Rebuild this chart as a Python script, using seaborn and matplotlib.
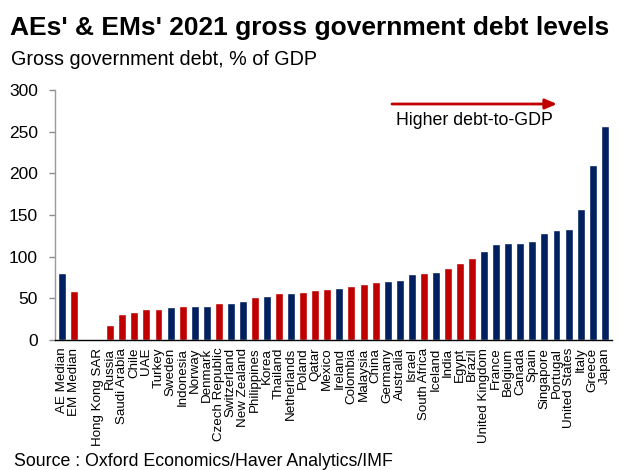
import matplotlib
matplotlib.use("Agg")
import matplotlib.pyplot as plt
import seaborn as sns
import pandas as pd

# 2021 gross government debt, % of GDP (AE = advanced economy, EM = emerging market)
countries = [
    "AE Median", "EM Median",
    "Hong Kong SAR", "Russia", "Saudi Arabia", "Chile", "UAE", "Turkey",
    "Sweden", "Indonesia", "Norway", "Denmark", "Czech Republic",
    "Switzerland", "New Zealand", "Philippines", "Korea", "Thailand",
    "Netherlands", "Poland", "Qatar", "Mexico", "Ireland", "Colombia",
    "Malaysia", "China", "Germany", "Australia", "Israel", "South Africa",
    "Iceland", "India", "Egypt", "Brazil", "United Kingdom", "France",
    "Belgium", "Canada", "Spain", "Singapore", "Portugal", "United States",
    "Italy", "Greece", "Japan",
]
debt = [
    80, 59,
    1.5, 18, 31, 34, 37, 37,
    40, 41, 41, 41, 44,
    45, 47, 52, 53, 56,
    56, 58, 60, 61, 63, 64.5,
    67, 70, 70.5, 72, 79, 80.5,
    82, 86.5, 93, 98, 107, 115,
    116, 116, 119, 129, 131.5, 133,
    157, 210, 257,
]
group = [
    "AE", "EM",
    "AE", "EM", "EM", "EM", "EM", "EM",
    "AE", "EM", "AE", "AE", "EM",
    "AE", "AE", "EM", "AE", "EM",
    "AE", "EM", "EM", "EM", "AE", "EM",
    "EM", "EM", "AE", "AE", "AE", "EM",
    "AE", "EM", "EM", "EM", "AE", "AE",
    "AE", "AE", "AE", "AE", "AE", "AE",
    "AE", "AE", "AE",
]
yticks = [0, 50, 100, 150, 200, 250, 300]

NAVY = "#002060"
RED = "#C00000"

df = pd.DataFrame({"country": countries, "debt": debt, "group": group})
# blank slot separates the medians from the individual economies
order = countries[:2] + [""] + countries[2:]

sns.set_theme(style="white")
plt.rcParams["font.family"] = ["Liberation Sans", "DejaVu Sans"]

W, H = 619, 470
fig = plt.figure(figsize=(W / 100, H / 100), dpi=100)
ax = fig.add_axes([55 / W, 1 - 340 / H, (612 - 55) / W, 250 / H])

sns.barplot(data=df, x="country", y="debt", hue="group", order=order,
            palette={"AE": NAVY, "EM": RED}, dodge=False, width=0.66,
            legend=False, saturation=1, ax=ax)

ax.set_xlim(-0.58, len(order) - 0.4)
ax.set_ylim(0, 300)
ax.set_yticks(yticks)
ax.set_yticklabels([str(t) for t in yticks], fontsize=12.5, color="black")
ax.set_xlabel("")
ax.set_ylabel("")
ax.tick_params(axis="y", direction="out", length=4.3, width=1, color="#8C8C8C",
               left=True, pad=8)
ax.tick_params(axis="x", length=0, pad=5.5)
ax.set_xticks(range(len(order)))
ax.set_xticklabels(order, rotation=90, fontsize=9.6, color="black", va="top")

for side in ("top", "right"):
    ax.spines[side].set_visible(False)
ax.spines["left"].set_color("#9A9A9A")
ax.spines["left"].set_linewidth(1)
ax.spines["bottom"].set_color("black")
ax.spines["bottom"].set_linewidth(1)

fig.text(10 / W, 1 - 34.5 / H, "AEs' & EMs' 2021 gross government debt levels",
         fontsize=19, fontweight="bold", va="baseline", ha="left", color="black")
fig.text(11 / W, 1 - 65 / H, "Gross government debt, % of GDP",
         fontsize=14.2, va="baseline", ha="left", color="black")
fig.text(14 / W, 1 - 466 / H, "Source : Oxford Economics/Haver Analytics/IMF",
         fontsize=12.8, va="baseline", ha="left", color="black")

# direction arrow and caption
ax.annotate("", xy=(557 / W, 1 - 104 / H), xytext=(392 / W, 1 - 104 / H),
            xycoords="figure fraction", textcoords="figure fraction",
            arrowprops=dict(arrowstyle="-|>,head_length=0.7,head_width=0.3",
                            color=RED, lw=2, mutation_scale=10,
                            shrinkA=0, shrinkB=0))
fig.text(396 / W, 1 - 124.7 / H, "Higher debt-to-GDP", fontsize=12.8,
         ha="left", va="baseline", color="black")

fig.savefig("out.png", dpi=100)
